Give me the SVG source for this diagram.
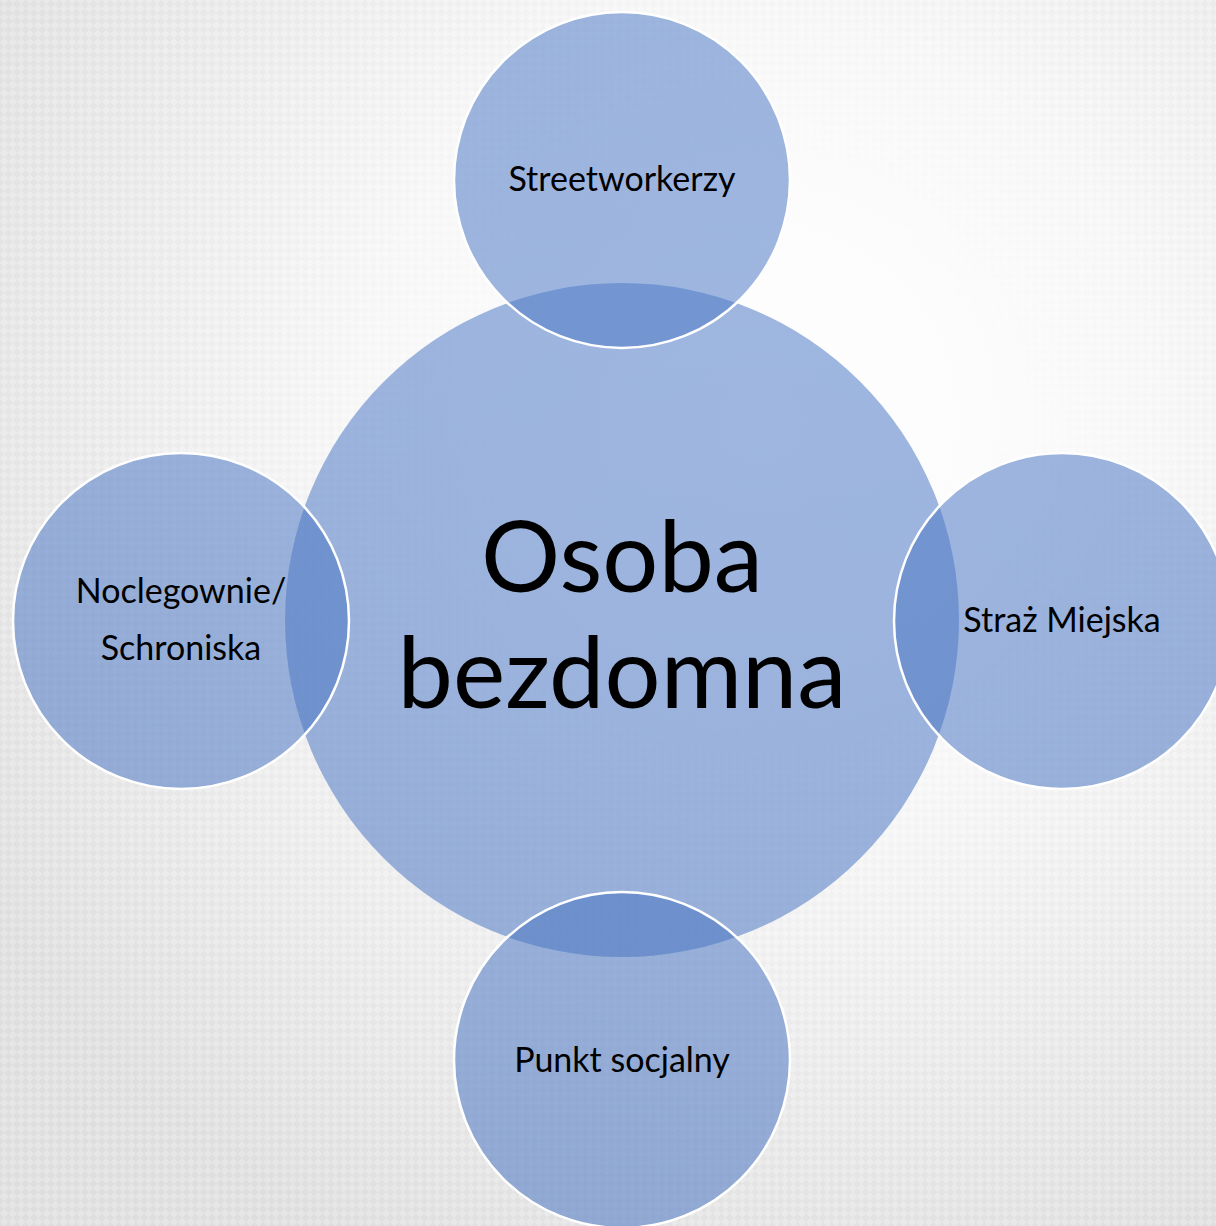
<svg xmlns="http://www.w3.org/2000/svg" width="1216" height="1226" viewBox="0 0 1216 1226">
  <defs>
    <radialGradient id="bg" cx="760" cy="420" r="900" gradientUnits="userSpaceOnUse">
      <stop offset="0" stop-color="#ffffff"/>
      <stop offset="0.45" stop-color="#f9f9f9"/>
      <stop offset="1" stop-color="#e6e6e6"/>
    </radialGradient>
    <radialGradient id="maskg" cx="760" cy="420" r="900" gradientUnits="userSpaceOnUse">
      <stop offset="0.25" stop-color="#000"/>
      <stop offset="1" stop-color="#fff"/>
    </radialGradient>
    <pattern id="checker" width="12" height="12" patternUnits="userSpaceOnUse" patternTransform="rotate(45)">
      <rect x="0" y="0" width="6" height="6" fill="#cfcfcf"/>
      <rect x="6" y="6" width="6" height="6" fill="#cfcfcf"/>
    </pattern>
    <mask id="edge">
      <rect width="1216" height="1226" fill="url(#maskg)"/>
    </mask>
    <linearGradient id="fillg" x1="0" y1="0" x2="0" y2="1226" gradientUnits="userSpaceOnUse">
      <stop offset="0" stop-color="#527ec8"/>
      <stop offset="1" stop-color="#4a76c2"/>
    </linearGradient>
  </defs>
  <style>
    .c { fill: url(#fillg); fill-opacity: 0.55; }
    .s { stroke: #ffffff; stroke-width: 2.5; }
    .t { font-family: Lato, "Liberation Sans", sans-serif; fill: #000000; text-anchor: middle; }
    .small { font-size: 34px; }
    .big { font-size: 99px; }
  </style>
  <rect width="1216" height="1226" fill="url(#bg)"/>
  <rect width="1216" height="1226" fill="url(#checker)" opacity="0.3" mask="url(#edge)"/>

  <g id="node-center">
    <circle class="c" cx="622" cy="620" r="337"/>
    <text class="t big" x="622" y="592">Osoba</text>
    <text class="t big" x="622" y="708">bezdomna</text>
  </g>
  <g id="node-top">
    <circle class="c s" cx="622" cy="180" r="168"/>
    <text class="t small" x="622" y="191">Streetworkerzy</text>
  </g>
  <g id="node-left">
    <circle class="c s" cx="181" cy="621" r="168"/>
    <text class="t small" x="181" y="603">Noclegownie/</text>
    <text class="t small" x="181" y="660">Schroniska</text>
  </g>
  <g id="node-right">
    <circle class="c s" cx="1062" cy="621" r="168"/>
    <text class="t small" x="1062" y="632">Straż Miejska</text>
  </g>
  <g id="node-bottom">
    <circle class="c s" cx="622" cy="1060" r="168"/>
    <text class="t small" x="622" y="1072">Punkt socjalny</text>
  </g>
  <g id="connectors"/>
</svg>
